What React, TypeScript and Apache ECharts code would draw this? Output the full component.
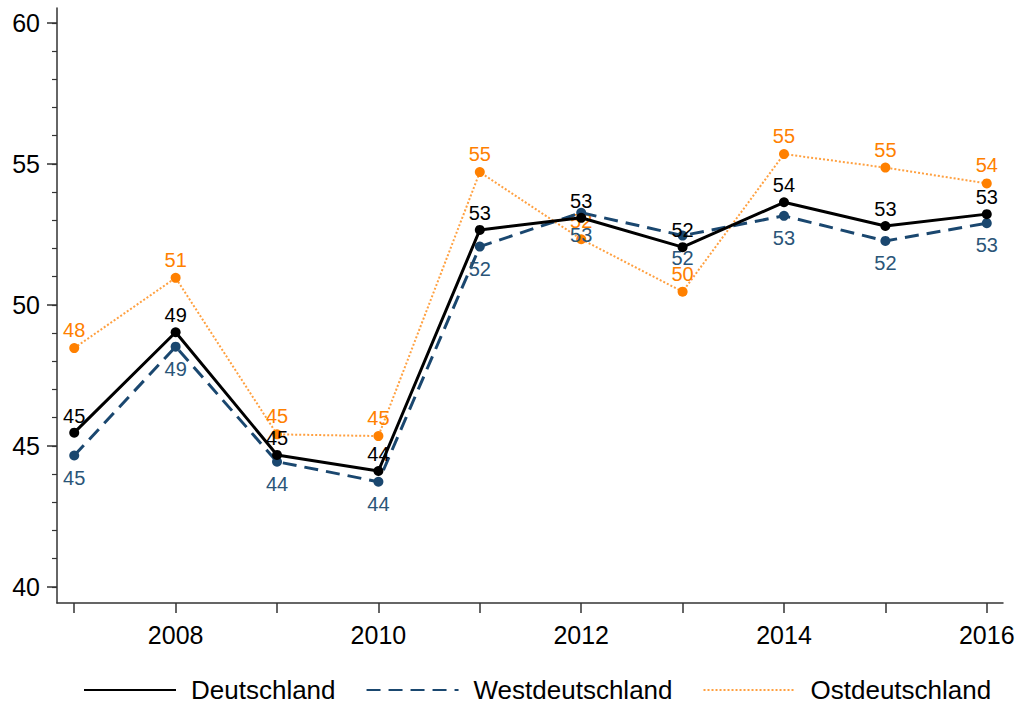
import React, { useEffect, useRef } from "react";
import * as echarts from "echarts";

const years = [2007, 2008, 2009, 2010, 2011, 2012, 2013, 2014, 2015, 2016];
const labelYears = [2008, 2010, 2012, 2014, 2016];
const deutschland = [45.47, 49.03, 44.68, 44.11, 52.66, 53.09, 52.05, 53.64, 52.8, 53.22];
const westdeutschland = [44.66, 48.52, 44.44, 43.73, 52.07, 53.27, 52.46, 53.16, 52.27, 52.9];
const ostdeutschland = [48.47, 50.96, 45.41, 45.35, 54.71, 52.33, 50.47, 55.35, 54.87, 54.31];
const yMajorTicks = [40, 45, 50, 55, 60];
const yMinorTicks = [40, 41, 42, 43, 44, 45, 46, 47, 48, 49, 50, 51, 52, 53, 54, 55, 56, 57, 58, 59, 60];

const FONT = "'Liberation Sans', Arial, Helvetica, sans-serif";
const AXIS_COLOR = "#333333";
const NAVY = "#1a476f";
const ORANGE = "#ff8000";

export default function App() {
  const ref = useRef<HTMLDivElement>(null);
  useEffect(() => {
    if (!ref.current) return;
    const chart = echarts.init(ref.current, undefined, { renderer: "svg" });
    const pairs = (vals: number[]) => years.map((y, i) => [y, vals[i]]);
    const lbl = (color: string, position: string, distance: number) => ({
      show: true,
      position,
      distance,
      color,
      fontSize: 20,
      fontFamily: FONT,
      formatter: (p: any) => String(Math.round(p.value[1])),
    });
    chart.setOption({
      animation: false,
      backgroundColor: "#ffffff",
      grid: { left: 57, right: 15, top: 8, bottom: 101, containLabel: false },
      xAxis: {
        type: "value",
        min: 2006.83,
        max: 2016.16,
        axisLine: { show: true, lineStyle: { color: AXIS_COLOR, width: 1.5 } },
        axisTick: { show: true, length: 10, customValues: years, lineStyle: { color: AXIS_COLOR, width: 1.5 } },
        axisLabel: {
          show: true,
          customValues: labelYears,
          margin: 19,
          color: "#000",
          fontSize: 25,
          fontFamily: FONT,
          formatter: (v: number) => String(v),
        },
        splitLine: { show: false },
      },
      yAxis: [
        {
          type: "value",
          min: 39.43,
          max: 60.53,
          position: "left",
          axisLine: { show: true, lineStyle: { color: AXIS_COLOR, width: 1.5 } },
          axisTick: { show: true, length: 10, customValues: yMajorTicks, lineStyle: { color: AXIS_COLOR, width: 1.5 } },
          axisLabel: {
            show: true,
            customValues: yMajorTicks,
            margin: 17,
            color: "#000",
            fontSize: 25,
            fontFamily: FONT,
            formatter: (v: number) => String(v),
          },
          splitLine: { show: false },
        },
        {
          type: "value",
          min: 39.43,
          max: 60.53,
          position: "left",
          offset: 0,
          axisLine: { show: false },
          axisTick: { show: true, length: 5, customValues: yMinorTicks, lineStyle: { color: AXIS_COLOR, width: 1.2 } },
          axisLabel: { show: false },
          splitLine: { show: false },
        },
      ],
      legend: {
        left: 78,
        top: 672,
        itemWidth: 92,
        itemHeight: 14,
        itemGap: 30,
        itemStyle: { opacity: 0 },
        formatter: (name: string) => "{g|}" + name,
        textStyle: {
          color: "#000",
          fontSize: 26,
          fontFamily: FONT,
          rich: { g: { width: 10, fontSize: 26 } },
        },
        data: ["Deutschland", "Westdeutschland", "Ostdeutschland"],
      },
      series: [
        {
          name: "Ostdeutschland",
          type: "line",
          data: pairs(ostdeutschland),
          symbol: "circle",
          symbolSize: 10,
          itemStyle: { color: ORANGE },
          lineStyle: { color: "#ffa040", width: 2, type: [2, 2] },
          label: lbl(ORANGE, "top", 3),
          z: 2,
        },
        {
          name: "Westdeutschland",
          type: "line",
          data: pairs(westdeutschland),
          symbol: "circle",
          symbolSize: 10,
          itemStyle: { color: NAVY },
          lineStyle: { color: NAVY, width: 3, type: [14, 8] },
          label: lbl("#2a5578", "bottom", 7),
          z: 3,
        },
        {
          name: "Deutschland",
          type: "line",
          data: pairs(deutschland),
          symbol: "circle",
          symbolSize: 10,
          itemStyle: { color: "#000" },
          lineStyle: { color: "#000", width: 3, type: "solid" },
          label: lbl("#000", "top", 2),
          z: 4,
        },
      ],
    });
    return () => chart.dispose();
  }, []);
  return <div ref={ref} style={{ width: 1018, height: 704, position: "absolute", left: 0, top: 0 }} />;
}
